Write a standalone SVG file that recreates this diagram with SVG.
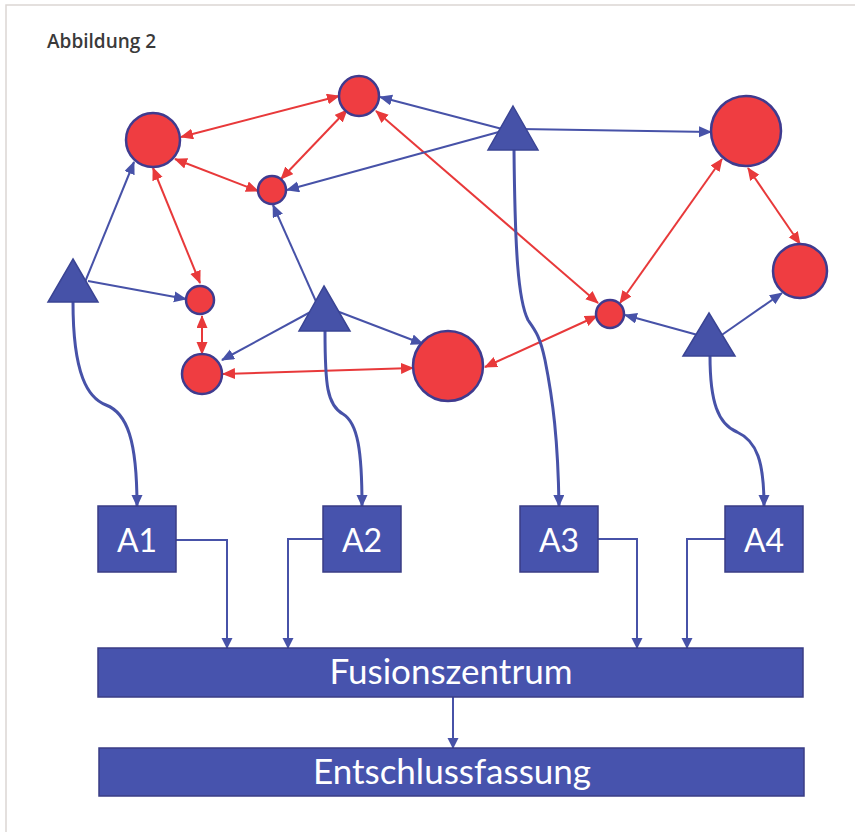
<svg xmlns="http://www.w3.org/2000/svg" width="855" height="832" viewBox="0 0 855 832">
  <defs>
    <style>
      .frame { stroke: #dcd6d4; stroke-width: 1.5; fill: none; }
      .title { font-family: "Open Sans", "Liberation Sans", sans-serif; font-weight: 600; font-size: 19px; fill: #3a3a3a; }
      .red { stroke: #e8393a; stroke-width: 2; fill: none; marker-start: url(#redHead); marker-end: url(#redHead); }
      .blue { stroke: #4752a8; stroke-width: 2; fill: none; marker-end: url(#blueHead); }
      .feed { stroke: #4752a8; stroke-width: 3; fill: none; marker-end: url(#feedHead); }
      .route { stroke: #4752a8; stroke-width: 2; fill: none; marker-end: url(#boxHead); }
      .circle { fill: #ef3d41; stroke: #3f3b8f; stroke-width: 2.5; }
      .tri { fill: #4652a8; stroke: #3a4494; stroke-width: 1.5; stroke-linejoin: miter; }
      .box { fill: #4753ad; stroke: #3a3d85; stroke-width: 1.5; }
      .label { font-family: Lato, "Liberation Sans", sans-serif; fill: #ffffff; text-anchor: middle; }
    </style>
    <marker id="redHead" markerUnits="userSpaceOnUse" markerWidth="14" markerHeight="12" refX="12" refY="5.5" orient="auto-start-reverse">
      <path d="M0,0 L13,5.5 L0,11 Z" fill="#e8393a"/>
    </marker>
    <marker id="blueHead" markerUnits="userSpaceOnUse" markerWidth="14" markerHeight="12" refX="12" refY="5.5" orient="auto">
      <path d="M0,0 L13,5.5 L0,11 Z" fill="#4752a8"/>
    </marker>
    <marker id="feedHead" markerUnits="userSpaceOnUse" markerWidth="14" markerHeight="12" refX="11" refY="5.5" orient="auto">
      <path d="M0,0 L12,5.5 L0,11 Z" fill="#4752a8"/>
    </marker>
    <marker id="boxHead" markerUnits="userSpaceOnUse" markerWidth="12" markerHeight="12" refX="10" refY="5.5" orient="auto">
      <path d="M0,0 L11,5.5 L0,11 Z" fill="#4752a8"/>
    </marker>
  </defs>

  <rect width="855" height="832" fill="#ffffff"/>
  <path class="frame" d="M6,832 V5 H855"/>
  <text class="title" x="47" y="48">Abbildung 2</text>

  <!-- connectors -->
  <g id="connectors">
    <!-- mutual links between circles -->
    <line class="red" x1="181" y1="137" x2="339" y2="96"/>
    <line class="red" x1="175" y1="159" x2="258" y2="191"/>
    <line class="red" x1="347" y1="110" x2="281" y2="179"/>
    <line class="red" x1="376" y1="111" x2="598" y2="303"/>
    <line class="red" x1="153" y1="168" x2="200" y2="283"/>
    <line class="red" x1="202" y1="316" x2="202" y2="354"/>
    <line class="red" x1="223" y1="374" x2="413" y2="368"/>
    <line class="red" x1="485" y1="367" x2="597" y2="316"/>
    <line class="red" x1="620" y1="303" x2="722" y2="159"/>
    <line class="red" x1="748" y1="168" x2="800" y2="244"/>
    <!-- triangle to circle -->
    <line class="blue" x1="85" y1="282" x2="134" y2="162"/>
    <line class="blue" x1="88" y1="281" x2="186" y2="299"/>
    <line class="blue" x1="318" y1="306" x2="273" y2="205"/>
    <line class="blue" x1="316" y1="309" x2="222" y2="360"/>
    <line class="blue" x1="334" y1="310" x2="423" y2="344"/>
    <line class="blue" x1="506" y1="130" x2="380" y2="97"/>
    <line class="blue" x1="506" y1="130" x2="287" y2="190"/>
    <line class="blue" x1="520" y1="129" x2="711" y2="132"/>
    <line class="blue" x1="705" y1="337" x2="625" y2="315"/>
    <line class="blue" x1="716" y1="339" x2="782" y2="293"/>
    <!-- triangle to agent box -->
    <path class="feed" d="M73,302 C73,375 88,398 106,405 C127,413 137,440 137,506"/>
    <path class="feed" d="M325,331 C325,385 327,405 343,414 C358,423 362,452 362,506"/>
    <path class="feed" d="M514,150 C515,250 518,300 528,320 C535,330 540,336 545,360 C553,400 558,440 559,506"/>
    <path class="feed" d="M710,356 C710,402 718,424 737,432 C757,441 764,462 764,506"/>
    <!-- agent box to fusion centre -->
    <path class="route" d="M176,540 H227 V648"/>
    <path class="route" d="M323,539 H288 V648"/>
    <path class="route" d="M598,539 H637 V648"/>
    <path class="route" d="M725,539 H687 V648"/>
    <path class="route" d="M453,697 V748"/>
  </g>

  <!-- circles -->
  <g id="c1"><circle class="circle" cx="153" cy="140" r="27"/></g>
  <g id="c2"><circle class="circle" cx="359" cy="96" r="20"/></g>
  <g id="c3"><circle class="circle" cx="272" cy="190" r="14"/></g>
  <g id="c4"><circle class="circle" cx="746" cy="131" r="35"/></g>
  <g id="c5"><circle class="circle" cx="200" cy="300" r="14"/></g>
  <g id="c6"><circle class="circle" cx="202" cy="374" r="20"/></g>
  <g id="c7"><circle class="circle" cx="448" cy="366" r="35"/></g>
  <g id="c8"><circle class="circle" cx="610" cy="314" r="14"/></g>
  <g id="c9"><circle class="circle" cx="800" cy="271" r="27"/></g>

  <!-- triangles -->
  <g id="t1"><polygon class="tri" points="73,259 98,302 48,302"/></g>
  <g id="t2"><polygon class="tri" points="324,286 350,331 299,331"/></g>
  <g id="t3"><polygon class="tri" points="513,106 538,150 488,150"/></g>
  <g id="t4"><polygon class="tri" points="709,313 735,356 683,356"/></g>

  <!-- agent boxes -->
  <g id="a1"><rect class="box" x="98" y="506" width="78" height="66"/><text class="label" x="137" y="552" font-size="32">A1</text></g>
  <g id="a2"><rect class="box" x="323" y="506" width="78" height="66"/><text class="label" x="362" y="552" font-size="32">A2</text></g>
  <g id="a3"><rect class="box" x="520" y="506" width="78" height="66"/><text class="label" x="559" y="552" font-size="32">A3</text></g>
  <g id="a4"><rect class="box" x="725" y="506" width="78" height="66"/><text class="label" x="764" y="552" font-size="32">A4</text></g>

  <!-- processing stages -->
  <g id="fusion"><rect class="box" x="98" y="648" width="705" height="49"/><text class="label" x="451" y="684" font-size="35">Fusionszentrum</text></g>
  <g id="decision"><rect class="box" x="99" y="748" width="705" height="48"/><text class="label" x="452" y="784" font-size="35">Entschlussfassung</text></g>
</svg>
